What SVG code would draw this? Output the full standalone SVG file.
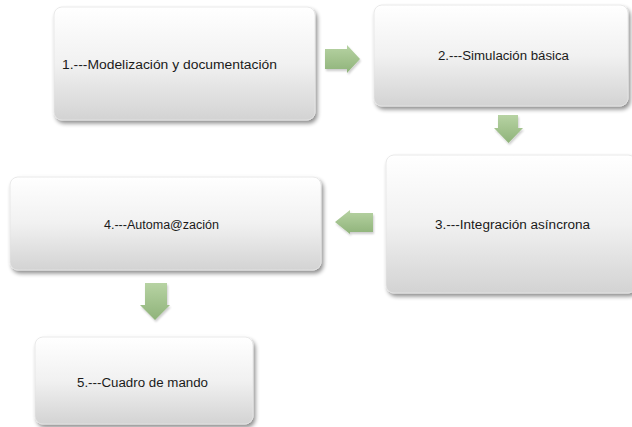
<svg xmlns="http://www.w3.org/2000/svg" width="632" height="427" viewBox="0 0 632 427">
  <style>
    .box { fill: url(#boxFill); stroke: #e4e4e4; stroke-width: 0.8; filter: url(#shadow); }
    .label { font-family: "Liberation Sans", Arial, sans-serif; font-size: 12.5px; fill: #1a1a1a; }
    .arrow { fill: url(#arrowFill); filter: url(#softShadow); }
  </style>
  <defs>
    <linearGradient id="boxFill" x1="0" y1="0" x2="0" y2="1">
      <stop offset="0" stop-color="#ffffff"/>
      <stop offset="0.5" stop-color="#f1f1f1"/>
      <stop offset="1" stop-color="#d3d3d3"/>
    </linearGradient>
    <linearGradient id="arrowFill" x1="0" y1="0" x2="0" y2="1">
      <stop offset="0" stop-color="#b7d3a3"/>
      <stop offset="1" stop-color="#8fb37a"/>
    </linearGradient>
    <filter id="shadow" x="-5%" y="-5%" width="112%" height="115%">
      <feGaussianBlur in="SourceAlpha" stdDeviation="2"/>
      <feOffset dx="1.5" dy="2.5" result="b"/>
      <feComponentTransfer><feFuncA type="linear" slope="0.45"/></feComponentTransfer>
      <feMerge><feMergeNode/><feMergeNode in="SourceGraphic"/></feMerge>
    </filter>
    <filter id="softShadow" x="-20%" y="-20%" width="150%" height="150%">
      <feGaussianBlur in="SourceAlpha" stdDeviation="1.2"/>
      <feOffset dx="1" dy="1.5"/>
      <feComponentTransfer><feFuncA type="linear" slope="0.2"/></feComponentTransfer>
      <feMerge><feMergeNode/><feMergeNode in="SourceGraphic"/></feMerge>
    </filter>
  </defs>

  <g id="node1">
    <rect class="box" x="54" y="7" width="261" height="113" rx="8"/>
    <text class="label" x="62" y="69" textLength="215" lengthAdjust="spacingAndGlyphs">1.---Modelización y documentación</text>
  </g>
  <g id="node2">
    <rect class="box" x="374" y="5" width="254" height="101" rx="8"/>
    <text class="label" x="438" y="60" textLength="131" lengthAdjust="spacingAndGlyphs">2.---Simulación  básica</text>
  </g>
  <g id="node3">
    <rect class="box" x="386" y="155" width="250" height="138" rx="8"/>
    <text class="label" x="435" y="229" textLength="155" lengthAdjust="spacingAndGlyphs">3.---Integración   asíncrona</text>
  </g>
  <g id="node4">
    <rect class="box" x="10" y="177" width="311" height="93" rx="8"/>
    <text class="label" x="104" y="229" textLength="115" lengthAdjust="spacingAndGlyphs">4.---Automa@zación</text>
  </g>
  <g id="node5">
    <rect class="box" x="35" y="337" width="218" height="87" rx="8"/>
    <text class="label" x="77" y="387" textLength="131" lengthAdjust="spacingAndGlyphs">5.---Cuadro de mando</text>
  </g>

  <g id="connectors">
    <!-- 1 → 2 -->
    <path class="arrow" d="M325 49 H347 V45 L360 59 L347 73 V69 H325 Z"/>
    <!-- 2 → 3 -->
    <path class="arrow" d="M498 115 H518 V128 H523 L508.5 143 L494 128 H498 Z"/>
    <!-- 3 → 4 -->
    <path class="arrow" d="M373 213 H350 V210 L335 222 L350 234 V232 H373 Z"/>
    <!-- 4 → 5 -->
    <path class="arrow" d="M145 283 H167 V305 H170 L155 320 L140 305 H145 Z"/>
  </g>
</svg>
